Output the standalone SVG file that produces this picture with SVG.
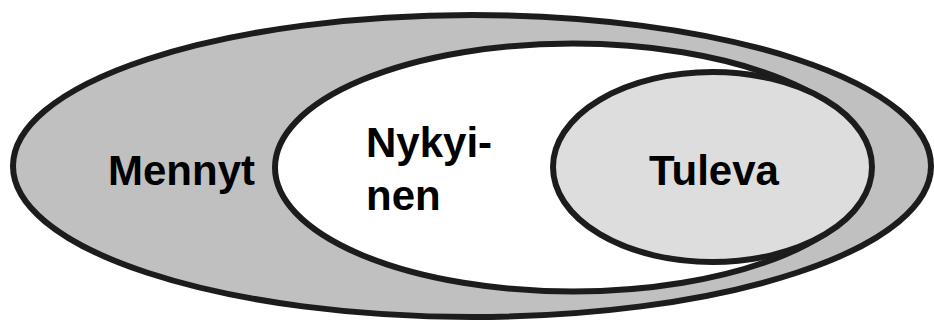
<svg xmlns="http://www.w3.org/2000/svg" width="934" height="320" viewBox="0 0 934 320">
  <style>
    .ring { stroke: #1c1c1c; stroke-width: 6; }
    .lbl { font-family: "Liberation Sans", Arial, sans-serif; font-weight: bold; font-size: 42px; fill: #000; }
  </style>
  <rect width="934" height="320" fill="#ffffff"/>
  <g id="mennyt">
    <ellipse class="ring" cx="472" cy="166" rx="459" ry="151" fill="#c0c0c0"/>
    <text class="lbl" x="108" y="185">Mennyt</text>
  </g>
  <g id="nykyinen">
    <ellipse class="ring" cx="573" cy="167.5" rx="298" ry="124" fill="#ffffff"/>
    <text class="lbl" x="366" y="157">Nykyi-</text>
    <text class="lbl" x="366" y="210">nen</text>
  </g>
  <g id="tuleva">
    <ellipse class="ring" cx="712.5" cy="167" rx="159.5" ry="95" fill="#dddddd"/>
    <text class="lbl" x="649" y="185">Tuleva</text>
  </g>
</svg>
